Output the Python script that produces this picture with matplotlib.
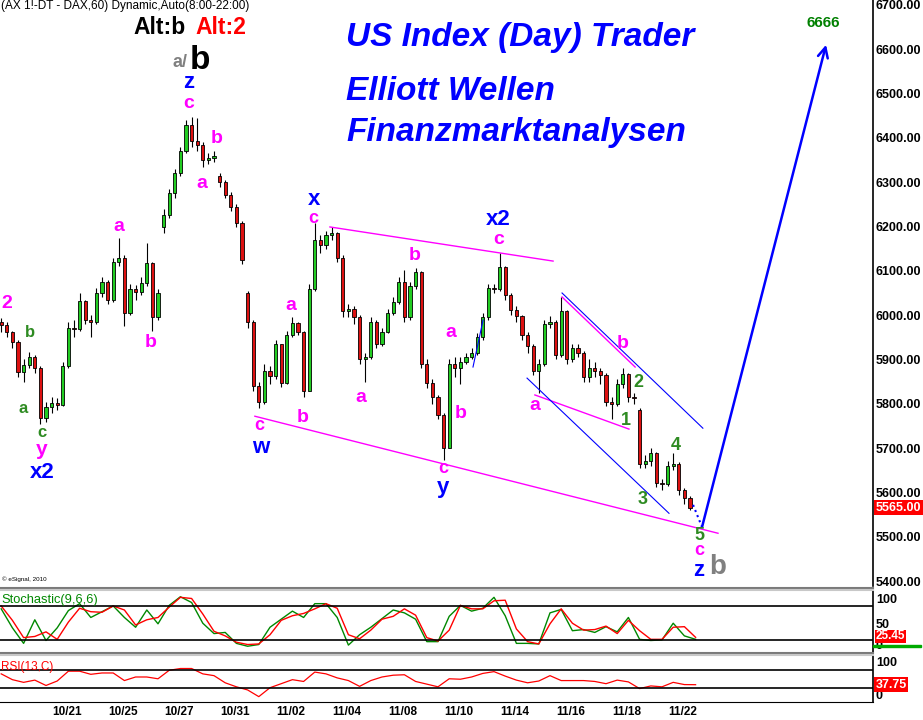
import numpy as np
import matplotlib.pyplot as plt
from matplotlib.lines import Line2D
from matplotlib.patches import Rectangle

plt.rcParams['font.family'] = ['Liberation Sans', 'DejaVu Sans']

W, H = 923, 720

# bars: one every 0.2 trading day, day 0 = 10/21
first_day = -2.35
bar_step = 0.2
first_open = 5985
closes = [5978, 5962, 5940, 5872, 5888, 5905, 5880, 5768, 5792, 5802,
          5798, 5885, 5972, 5968, 6032, 5990, 5985, 6050, 6075, 6035,
          6120, 6130, 6005, 6060, 6052, 6072, 6118, 5995, 6050, 6225,
          6275, 6320, 6370, 6430, 6392, 6385, 6350, 6355, 6358, 6300,
          6272, 6245, 6208, 6125, 5985, 5840, 5805, 5875, 5862, 5935,
          5848, 5955, 5982, 5962, 5830, 6060, 6170, 6158, 6180, 6185,
          6130, 6010, 6015, 5995, 5900, 5905, 5985, 5935, 5962, 6005,
          6030, 6075, 5995, 6065, 6098, 5890, 5848, 5815, 5775, 5700,
          5890, 5880, 5895, 5905, 5915, 5950, 5995, 6062, 6058, 6108,
          6045, 6012, 5998, 5955, 5930, 5875, 5890, 5980, 5985, 5910,
          6010, 5900, 5925, 5915, 5860, 5880, 5875, 5865, 5805, 5800,
          5845, 5868, 5815, 5812, 5665, 5670, 5690, 5622, 5618, 5660,
          5665, 5605, 5588, 5565]
highs = [5994, 5985, 5965, 5945, 5900, 5918, 5910, 5885, 5805, 5815,
         5812, 5895, 5985, 5990, 6050, 6035, 6000, 6062, 6085, 6080,
         6130, 6175, 6135, 6070, 6068, 6085, 6163, 6120, 6060, 6240,
         6285, 6330, 6380, 6440, 6447, 6445, 6390, 6365, 6370, 6320,
         6305, 6278, 6250, 6212, 6055, 5990, 5850, 5890, 5885, 5945,
         5935, 5965, 5995, 5985, 5965, 6070, 6208, 6180, 6190, 6199,
         6188, 6135, 6025, 6020, 6000, 5915, 5995, 5990, 5970, 6015,
         6040, 6085, 6102, 6075, 6107, 6100, 5900, 5855, 5820, 5780,
         5900, 5905, 5905, 5915, 5925, 5960, 6005, 6070, 6070, 6140,
         6110, 6050, 6020, 6000, 5962, 5935, 5900, 5990, 5998, 5990,
         6041, 6012, 5935, 5935, 5920, 5900, 5895, 5880, 5870, 5815,
         5855, 5880, 5870, 5825, 5790, 5685, 5700, 5692, 5630, 5672,
         5690, 5668, 5610, 5592]
lows = [5962, 5950, 5925, 5860, 5850, 5880, 5870, 5755, 5760, 5780,
        5785, 5795, 5880, 5950, 5965, 5980, 5950, 5980, 6040, 6025,
        6030, 6110, 5975, 6000, 6035, 6045, 6065, 5965, 5990, 6185,
        6220, 6265, 6315, 6365, 6380, 6370, 6335, 6340, 6345, 6290,
        6265, 6235, 6200, 6115, 5970, 5830, 5790, 5800, 5845, 5855,
        5838, 5845, 5950, 5955, 5815, 5830, 6055, 6140, 6150, 6170,
        6120, 5995, 5995, 5980, 5890, 5850, 5900, 5925, 5930, 5960,
        6000, 6025, 5985, 5990, 6060, 5880, 5835, 5800, 5765, 5673,
        5700, 5860, 5845, 5890, 5900, 5910, 5945, 5990, 6050, 6055,
        6035, 6000, 5985, 5945, 5915, 5865, 5825, 5885, 5970, 5900,
        5905, 5890, 5895, 5905, 5850, 5850, 5860, 5845, 5795, 5765,
        5795, 5835, 5805, 5800, 5655, 5655, 5660, 5612, 5605, 5615,
        5650, 5595, 5575, 5560]
gap_opens = {29: 6200, 39: 6315, 44: 6050, 114: 5785}

# indicators, one value every 0.4 trading day
ind_step = 0.4
stoch_k = [75, 42, 15, 56, 20, 42, 72, 84, 60, 70,
           80, 60, 43, 73, 49, 81, 96, 86, 50, 32,
           34, 15, 10, 13, 43, 57, 71, 60, 84, 84,
           60, 12, 30, 43, 58, 73, 68, 57, 18, 18,
           62, 81, 71, 76, 95, 63, 15, 15, 14, 68,
           74, 37, 39, 34, 44, 35, 60, 22, 20, 21,
           50, 28, 22]
stoch_d = [80, 55, 25, 27, 35, 22, 52, 76, 70, 69,
           80, 73, 47, 56, 60, 78, 95, 93, 66, 36,
           28, 17, 13, 14, 30, 55, 63, 67, 75, 84,
           76, 30, 23, 38, 57, 62, 75, 64, 25, 19,
           38, 81, 75, 75, 89, 90, 40, 18, 14, 49,
           75, 50, 38, 39, 45, 32, 55, 37, 22, 22,
           43, 44, 25.45]
rsi = [62, 49, 43, 48, 36, 46, 68, 68, 61, 64,
       64, 47, 55, 55, 51, 70, 74, 74, 62, 58,
       42, 33, 26, 11, 31, 40, 49, 45, 66, 62,
       53, 47, 34, 47, 55, 59, 60, 45, 39, 33,
       51, 50, 55, 63, 67, 57, 48, 42, 46, 58,
       47, 47, 47, 45, 40, 48, 44, 29, 35, 33,
       43, 38, 37.75]

date_labels = ['10/21', '10/25', '10/27', '10/31', '11/02', '11/04',
               '11/08', '11/10', '11/14', '11/16', '11/18', '11/22']
last_price = 5565.00

MAG, BLUE, GRN, GRAY = '#FF00FF', '#0000FF', '#2E8B22', '#808080'

# trendlines (day, price) pairs
magenta_lines = [((9.39, 6199), (17.36, 6122)),
                 ((6.71, 5772), (23.25, 5508)),
                 ((17.68, 6041), (20.29, 5883)),
                 ((16.71, 5820), (20.07, 5743))]
blue_lines = [((17.68, 6050), (22.71, 5745)),
              ((16.43, 5858), (21.50, 5553)),
              ((14.50, 5883), (14.86, 5989))]
projection = [(22.36, 5572), (22.68, 5522), (27.11, 6610)]

wave_labels = [
    ('2', -2.14, 6027, MAG, 14), ('b', -1.32, 5960, GRN, 12),
    ('a', -1.57, 5790, GRN, 12), ('c', -0.89, 5736, GRN, 12),
    ('y', -0.89, 5698, MAG, 15), ('x2', -0.89, 5644, BLUE, 16),
    ('a', 1.86, 6201, MAG, 14), ('b', 3.0, 5939, MAG, 14),
    ('z', 4.36, 6524, BLUE, 16), ('c', 4.36, 6477, MAG, 14),
    ('a', 4.82, 6296, MAG, 14), ('b', 5.36, 6398, MAG, 14),
    ('c', 6.86, 5752, MAG, 13), ('w', 6.93, 5702, BLUE, 16),
    ('a', 8.0, 6021, MAG, 14), ('b', 8.43, 5770, MAG, 14),
    ('x', 8.82, 6262, BLUE, 16), ('c', 8.79, 6218, MAG, 13),
    ('a', 10.5, 5815, MAG, 14), ('b', 12.43, 6134, MAG, 14),
    ('a', 13.71, 5962, MAG, 14), ('b', 14.07, 5779, MAG, 14),
    ('c', 13.43, 5653, MAG, 13), ('y', 13.43, 5612, BLUE, 16),
    ('x2', 15.39, 6215, BLUE, 16), ('c', 15.43, 6170, MAG, 14),
    ('a', 16.71, 5797, MAG, 14), ('b', 19.86, 5935, MAG, 14),
    ('2', 20.39, 5847, GRN, 13), ('1', 19.96, 5763, GRN, 13),
    ('3', 20.57, 5585, GRN, 13), ('4', 21.75, 5707, GRN, 13),
    ('5', 22.57, 5504, GRN, 13), ('c', 22.57, 5469, MAG, 13),
    ('z', 22.57, 5424, BLUE, 16), ('b', 23.25, 5432, GRAY, 20),
    ('a/', 4.04, 6569, GRAY, 13), ('b', 4.75, 6575, 'black', 24),
    ('6666', 27.0, 6659, '#008000', 11),
]

fig = plt.figure(figsize=(W / 100, H / 100), dpi=100)


def frame(top, bottom):
    return [0, 1 - bottom / H, 873 / W, (bottom - top) / H]


ax = fig.add_axes(frame(0, 586))
ax_st = fig.add_axes(frame(591, 652))
ax_rsi = fig.add_axes(frame(656, 702))

xlim = ((0 - 67) / 28, (873 - 67) / 28)
for a in (ax, ax_st, ax_rsi):
    a.set_xlim(*xlim)
    for s in ('left', 'top', 'bottom'):
        a.spines[s].set_visible(False)
    a.spines['right'].set_linewidth(1.2)
    a.yaxis.tick_right()
    a.tick_params(axis='y', length=0, pad=2, labelsize=9)
    a.tick_params(axis='x', length=0)
ax_rsi.spines['bottom'].set_visible(True)

# candles
n = len(closes)
days = first_day + bar_step * np.arange(n)
opens = [first_open] + closes[:-1]
for i, g in gap_opens.items():
    opens[i] = g
opens = np.array(opens, float)
cl = np.array(closes, float)
body_lo = np.minimum(opens, cl)
body_h = np.maximum(np.abs(cl - opens), 2)
colors = np.where(cl >= opens, '#22CC22', '#DD1111')
ax.vlines(days, lows, highs, color='black', lw=0.8, zorder=2)
ax.bar(days, body_h, bottom=body_lo, width=0.12, color=colors,
       edgecolor='black', linewidth=0.6, zorder=3)

ax.set_ylim(5389, 6711)
ax.set_yticks(np.arange(5400, 6701, 100))
ax.set_yticklabels([f'{v:.2f}' for v in np.arange(5400, 6701, 100)],
                   fontweight='bold')
ax.set_xticks([])

for p0, p1 in magenta_lines:
    ax.plot([p0[0], p1[0]], [p0[1], p1[1]], color=MAG, lw=1, zorder=4)
for p0, p1 in blue_lines:
    ax.plot([p0[0], p1[0]], [p0[1], p1[1]], color=BLUE, lw=0.8, zorder=4)
ax.plot([projection[0][0], projection[1][0]], [projection[0][1], projection[1][1]],
        color=BLUE, lw=1.5, ls=':', zorder=4)
ax.annotate('', xy=projection[2], xytext=projection[1],
            arrowprops=dict(arrowstyle='->', color=BLUE, lw=1.8,
                            mutation_scale=18, shrinkA=0, shrinkB=0), zorder=4)

for txt, d, p, c, s in wave_labels:
    ax.text(d, p, txt, color=c, fontsize=s, fontweight='bold',
            ha='center', va='center', zorder=5)

ax.text(1.003, last_price, f'{last_price:.2f}', transform=ax.get_yaxis_transform(),
        color='white', fontsize=9, fontweight='bold', ha='left', va='center',
        bbox=dict(boxstyle='square,pad=0.12', fc='#FF0000', ec='none'),
        clip_on=False)

# stochastic
ind_days = first_day + ind_step * np.arange(len(stoch_k))
ax_st.plot(ind_days, stoch_k, color='#008800', lw=1)
ax_st.plot(ind_days, stoch_d, color='#FF0000', lw=1)
ax_st.axhline(80, color='black', lw=1.2)
ax_st.axhline(20, color='black', lw=1.2)
ax_st.set_ylim(0, 106)
ax_st.set_yticks([0, 50, 100])
ax_st.set_yticklabels(['0', '50', '100'], fontweight='bold')
ax_st.set_xticks([])
ax_st.add_patch(Rectangle((1.0, 8), 0.055, 4, transform=ax_st.get_yaxis_transform(),
                          color='#00AA00', clip_on=False, zorder=5))
ax_st.text(1.003, stoch_d[-1] + 2, f'{stoch_d[-1]:.2f}', transform=ax_st.get_yaxis_transform(),
           color='white', fontsize=8.5, fontweight='bold', ha='left', va='center',
           bbox=dict(boxstyle='square,pad=0.04', fc='#FF0000', ec='none'),
           clip_on=False, zorder=6)

# rsi
ax_rsi.plot(ind_days, rsi, color='#FF0000', lw=0.9)
ax_rsi.axhline(70, color='black', lw=1.2)
ax_rsi.axhline(30, color='black', lw=1.2)
ax_rsi.set_ylim(-1, 102)
ax_rsi.set_yticks([0, 100])
ax_rsi.set_yticklabels(['0', '100'], fontweight='bold')
ax_rsi.text(1.003, rsi[-1], f'{rsi[-1]:.2f}', transform=ax_rsi.get_yaxis_transform(),
            color='white', fontsize=9, fontweight='bold', ha='left', va='center',
            bbox=dict(boxstyle='square,pad=0.12', fc='#FF0000', ec='none'), clip_on=False)
ax_rsi.set_xticks(np.arange(0, 2 * len(date_labels), 2))
ax_rsi.set_xticklabels(date_labels, fontsize=8.5, fontweight='bold')
ax_rsi.tick_params(axis='x', pad=3)

# scale labels kept inside their panels, as the platform does
for a in (ax_st, ax_rsi):
    labs = a.get_yticklabels()
    for lab in labs:
        lab.set_fontweight('bold')
    labs[0].set_verticalalignment('bottom')
    labs[-1].set_verticalalignment('top')

# panel separators
for y, c in ((587.5, '#7A7A7A'), (589.5, '#C8C8C8'), (652.5, '#7A7A7A'), (654.5, '#C8C8C8')):
    fig.add_artist(Line2D([0, 873 / W], [1 - y / H, 1 - y / H], color=c, lw=1.5))


def ftext(x, y, s, **kw):
    fig.text(x / W, 1 - y / H, s, **kw)


ftext(1, 6, '(AX 1!-DT - DAX,60) Dynamic,Auto(8:00-22:00)', fontsize=8.5, va='center')
ftext(133, 27, 'Alt:b', fontsize=16.5, fontweight='bold', color='black', va='center')
ftext(195, 27, 'Alt:2', fontsize=16.5, fontweight='bold', color='#FF0000', va='center')
for txt, yb in (('US Index (Day) Trader', 46), ('Elliott Wellen', 100),
                ('Finanzmarktanalysen', 141)):
    ftext(346, yb, txt, fontsize=24, fontweight='bold', style='italic',
          color=BLUE, va='baseline')
ftext(2, 579, '\u00a9 eSignal, 2010', fontsize=4.5, va='center')
ftext(1, 600, 'Stochastic(9,6,6)', fontsize=9.3, color='#008800', va='center')
ftext(1, 667, 'RSI(13,C)', fontsize=8.5, color='#FF0000', va='center')

fig.savefig('out.png', dpi=100, facecolor='white')
